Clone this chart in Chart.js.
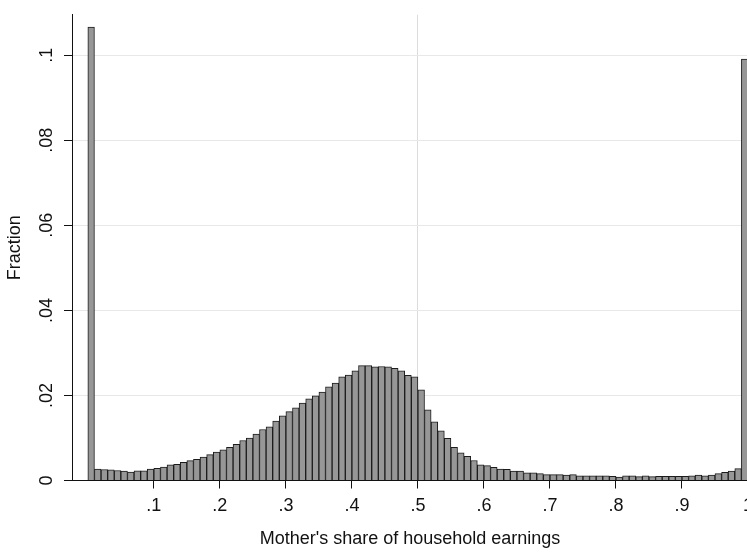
<!DOCTYPE html>
<html>
<head>
<meta charset="utf-8">
<script src="https://cdn.jsdelivr.net/npm/chart.js@4/dist/chart.umd.min.js"></script>
<style>
  html, body { margin: 0; padding: 0; background: #fff; overflow: hidden; width: 747px; height: 553px; }
  canvas { display: block; }
</style>
</head>
<body>
<canvas id="c" width="760" height="553"></canvas>
<script>
// ---- data ----
const binWidth = 0.01;
const fractions = [
  0.1066, 0.00266, 0.00259, 0.00251, 0.00235, 0.0022, 0.00197, 0.00228, 0.00228, 0.00266,
  0.00289, 0.00313, 0.00366, 0.00382, 0.00428, 0.00467, 0.00498, 0.0055, 0.0061, 0.0067,
  0.0072, 0.0078, 0.0085, 0.0094, 0.0100, 0.0109, 0.0120, 0.0126, 0.0140, 0.0152,
  0.0162, 0.0171, 0.0182, 0.0192, 0.0199, 0.0208, 0.0220, 0.0229, 0.0244, 0.0248,
  0.0258, 0.0270, 0.0270, 0.0267, 0.0268, 0.0267, 0.0264, 0.0258, 0.0247, 0.0244,
  0.0213, 0.0166, 0.0138, 0.0117, 0.0099, 0.0078, 0.0065, 0.0057, 0.0047, 0.0037,
  0.0035, 0.0031, 0.0027, 0.0026, 0.0022, 0.0022, 0.0018, 0.0018, 0.0016, 0.0014,
  0.0014, 0.0014, 0.0013, 0.0014, 0.0011, 0.0011, 0.0011, 0.0011, 0.0011, 0.0010,
  0.0008, 0.0011, 0.0011, 0.0009, 0.0011, 0.0009, 0.0010, 0.0010, 0.0010, 0.0010,
  0.0010, 0.0011, 0.0013, 0.0011, 0.0013, 0.0016, 0.0019, 0.0022, 0.0028, 0.0991
];
const binCenters = fractions.map((_, i) => +(i * binWidth + binWidth / 2).toFixed(4));
const xTickValues = [0.1, 0.2, 0.3, 0.4, 0.5, 0.6, 0.7, 0.8, 0.9, 1.0];
const xTickLabels = ['.1', '.2', '.3', '.4', '.5', '.6', '.7', '.8', '.9', '1'];
const yTickValues = [0, 0.02, 0.04, 0.06, 0.08, 0.1];
const yTickLabels = ['0', '.02', '.04', '.06', '.08', '.1'];
const referenceLine = 0.5;
const xTitle = "Mother's share of household earnings";
const yTitle = 'Fraction';

// ---- chart ----
const FONT = 'Liberation Sans, Arial, Helvetica, sans-serif';
const points = binCenters.map((x, i) => ({ x: x, y: fractions[i] }));

new Chart(document.getElementById('c'), {
  type: 'bar',
  data: {
    datasets: [{
      data: points,
      backgroundColor: '#979797',
      borderColor: '#1c1c1c',
      borderWidth: 1,
      borderSkipped: 'start',
      barPercentage: 1.0,
      categoryPercentage: 1.0
    }]
  },
  options: {
    responsive: false,
    devicePixelRatio: 1,
    animation: false,
    layout: { padding: { top: 7, right: 11.7, bottom: 0, left: 0 } },
    plugins: { legend: { display: false }, tooltip: { enabled: false } },
    scales: {
      x: {
        type: 'linear',
        offset: false,
        min: -0.024,
        max: 1.0,
        afterBuildTicks: (s) => { s.ticks = xTickValues.map(v => ({ value: v })); },
        afterFit: (s) => { s.height = 72.5; },
        ticks: {
          autoSkip: false,
          maxRotation: 0,
          padding: 7,
          color: '#111',
          font: { family: FONT, size: 18 },
          callback: (v, i) => xTickLabels[i]
        },
        grid: {
          offset: false,
          drawOnChartArea: true,
          color: (ctx) => (ctx.tick && Math.abs(ctx.tick.value - referenceLine) < 1e-9) ? '#dcdcdc' : 'rgba(0,0,0,0)',
          tickColor: '#111',
          tickLength: 8,
          lineWidth: 1
        },
        border: { display: true, color: '#111', width: 1 },
        title: {
          display: true,
          text: xTitle,
          color: '#111',
          font: { family: FONT, size: 18 },
          padding: { top: 0, bottom: 3 }
        }
      },
      y: {
        type: 'linear',
        min: 0,
        max: 0.1095,
        afterBuildTicks: (s) => { s.ticks = yTickValues.map(v => ({ value: v })); },
        afterFit: (s) => { s.width = 72; },
        ticks: {
          minRotation: 90,
          maxRotation: 90,
          crossAlign: 'center',
          padding: 4,
          color: '#111',
          font: { family: FONT, size: 18 },
          callback: (v, i) => yTickLabels[i]
        },
        grid: {
          offset: false,
          color: '#e8e8e8',
          tickColor: '#111',
          tickLength: 8,
          lineWidth: 1
        },
        border: { display: true, color: '#111', width: 1 },
        title: {
          display: true,
          text: yTitle,
          color: '#111',
          font: { family: FONT, size: 18 },
          padding: { top: 4, bottom: 0 }
        }
      }
    }
  }
});
</script>
</body>
</html>
